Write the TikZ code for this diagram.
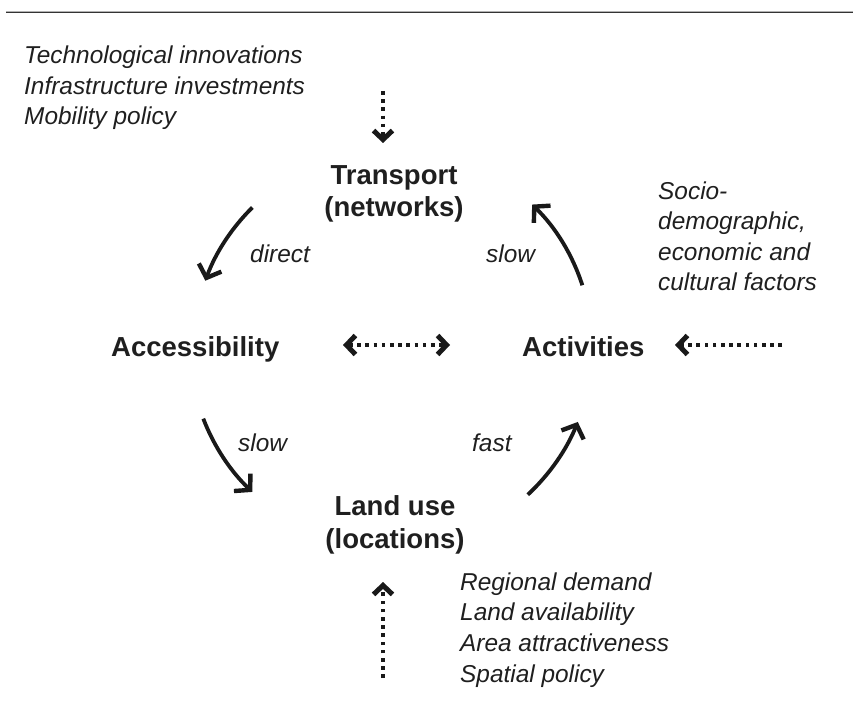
\documentclass[tikz,border=0pt]{standalone}
\usepackage{fontspec}
\setmainfont{Liberation Sans}
\usetikzlibrary{arrows.meta,calc}
\tikzset{
  ital/.style={font=\fontsize{24.4}{30.6}\selectfont\itshape, inner sep=0pt, anchor=base west, align=left, text=black!88},
  bld/.style={font=\fontsize{27.5}{32.5}\selectfont\bfseries, inner sep=0pt, anchor=base, align=center, text=black!88},
  flow/.style={line width=3.8pt, draw=black!90, -{Straight Barb[length=11pt,width=24pt,line width=4.4pt]}},
  dotline/.style={line width=3.6pt, draw=black!90, dash pattern=on 3.6pt off 4.6pt,
     -{Straight Barb[length=9pt,width=19pt,line width=5pt]}},
  dotboth/.style={line width=3.6pt, draw=black!90, dash pattern=on 3.6pt off 4.6pt,
     {Straight Barb[length=9pt,width=19pt,line width=5pt]}-{Straight Barb[length=9pt,width=19pt,line width=5pt]}}
}
\begin{document}
\begin{tikzpicture}[x=1pt,y=1pt]
\useasboundingbox (0,0) rectangle (853,704);
% top rule
\draw[gray!60, line width=1pt] (6,692.8) -- (853,692.8);
\draw[black!80, line width=1.2pt] (6,691.6) -- (853,691.6);

% main nodes (base = baseline of last line)
\node[bld] (transport) at (394,487) {Transport\\(networks)};
\node[bld, anchor=base west] (access) at (111,347) {Accessibility};
\node[bld, anchor=base west] (activ) at (522,347) {Activities};
\node[bld] (landuse) at (395,156) {Land use\\(locations)};

% external factor texts
\node[ital] (tech) at (24,579) {Technological innovations\\Infrastructure investments\\Mobility policy};
\node[ital] (socio) at (658,413) {Socio-\\demographic,\\economic and\\cultural factors};
\node[ital] (regional) at (460,22) {Regional demand\\Land availability\\Area attractiveness\\Spatial policy};

% arc labels
\node[ital] (ldirect) at (250,441) {direct};
\node[ital] (lslow1) at (486,441) {slow};
\node[ital] (lslow2) at (238,252) {slow};
\node[ital] (lfast) at (472,252) {fast};

% arcs
\coordinate (c) at (390,357);
\coordinate (a1s) at ($(c)+(134.6:196)$);
\coordinate (a2s) at ($(c)+(17.8:202)$);
\coordinate (a3s) at ($(c)+(201:200)$);
\coordinate (a4s) at ($(c)+(-47:202)$);
\draw[flow] (a1s) arc[start angle=134.6, end angle=160, radius=198];
\draw[flow] (a2s) arc[start angle=17.8, end angle=46, radius=195];
\draw[flow] (a3s) arc[start angle=201, end angle=226.6, radius=199];
\draw[flow] (a4s) arc[start angle=-47, end angle=-22, radius=204];

% dotted inputs
\coordinate (topin) at (383,613);
\coordinate (botin) at (383,26);
\coordinate (rightin) at (782,359);
\coordinate (transin) at (383,561);
\coordinate (landin) at (383,122);
\coordinate (activin) at (675,359);
\coordinate (accR) at (343,359);
\coordinate (actL) at (450,359);
\draw[dotline] (topin) -- (transin);
\draw[dotline] (botin) -- (landin);
\draw[dotline] (rightin) -- (activin);
\draw[dotboth] (accR) -- (actL);
\end{tikzpicture}
\end{document}
